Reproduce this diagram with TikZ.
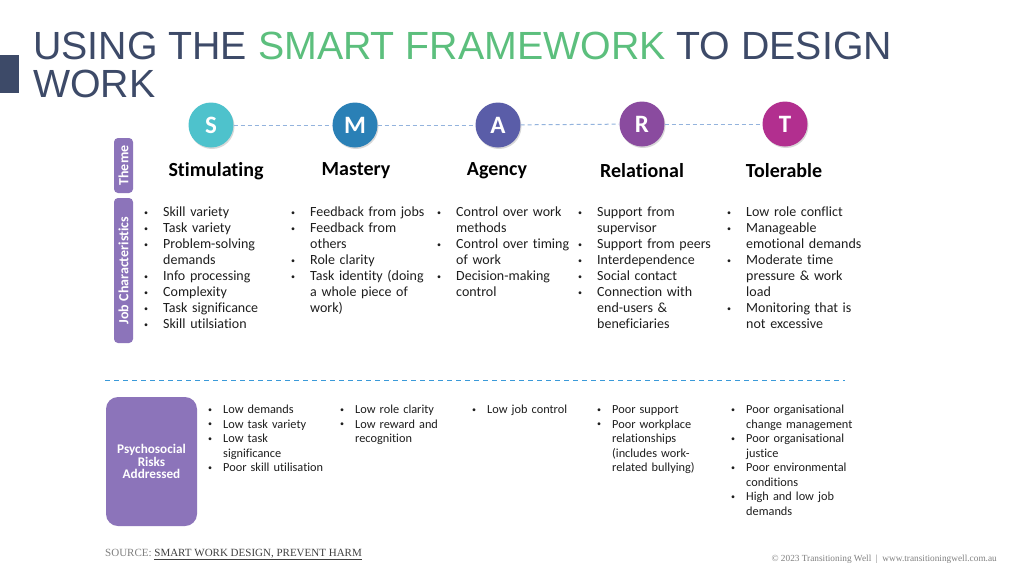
\documentclass[tikz,border=0pt]{standalone}
\usepackage{fontspec}
\setmainfont[Ligatures=NoCommon]{Carlito}
\newfontfamily\titlefont{Liberation Sans}
\newfontfamily\footfont{Liberation Serif}
\usetikzlibrary{positioning,shadows}
\definecolor{navy}{HTML}{3D4A68}
\definecolor{smartgreen}{HTML}{5CBF7D}
\definecolor{colS}{HTML}{4EC2CC}
\definecolor{colM}{HTML}{2A80B6}
\definecolor{colA}{HTML}{5A5DA8}
\definecolor{colR}{HTML}{8A4B9F}
\definecolor{colT}{HTML}{B22F8F}
\definecolor{barpurple}{HTML}{8C74BA}
\definecolor{linkblue}{HTML}{93B3DD}
\definecolor{seppblue}{HTML}{3A9AD9}
\definecolor{bodytext}{HTML}{1E1E1E}
\newlength\bulletgap
\newcommand\dotmark{\raisebox{1.6pt}{\fontsize{8}{8}\selectfont\textbullet}}
\newcommand\bl[1]{\par\noindent\strut\makebox[\bulletgap][l]{\dotmark}#1}
\newcommand\cl[1]{\par\noindent\strut\hspace*{\bulletgap}#1}
\tikzset{
  letter/.style={circle,minimum size=45pt,inner sep=0pt,text=white,
    font=\bfseries\fontsize{25}{25}\selectfont,
    drop shadow={shadow xshift=1pt,shadow yshift=-1.5pt,opacity=.3}},
  themename/.style={font=\bfseries\fontsize{20}{22}\selectfont,text=black},
  bar/.style={fill=barpurple,rounded corners=4pt,rotate=90,minimum height=19pt,
    inner sep=0pt,text=white,font=\bfseries\fontsize{14}{14}\selectfont},
  charlist/.style={anchor=north west,inner sep=0pt,text width=150pt,text=bodytext,
    font=\fontsize{14}{16}\selectfont\setlength\bulletgap{19pt}},
  risklist/.style={anchor=north west,inner sep=0pt,text width=130pt,text=bodytext,
    font=\fontsize{12.3}{14.5}\selectfont\setlength\bulletgap{15pt}},
  linkline/.style={linkblue,line width=1pt,dash pattern=on 4pt off 3pt},
}
\begin{document}
\begin{tikzpicture}[x=1pt,y=-1pt]
  \useasboundingbox[fill=white] (0,0) rectangle (1024,566);
  \fill[navy] (0,55) rectangle (19,93);
  \node[anchor=base west,inner sep=0pt,text=navy,font=\titlefont\fontsize{39.3}{38}\selectfont] (title) at (33,59)
    {USING THE \textcolor{smartgreen}{SMART FRAMEWORK} TO DESIGN};
  \node[anchor=base west,inner sep=0pt,text=navy,font=\titlefont\fontsize{39.3}{38}\selectfont] (titlework) at (33,97) {WORK};

  \node[letter,fill=colS] (s) at (211,125) {S};
  \node[letter,fill=colM] (m) at (355,125) {M};
  \node[letter,fill=colA] (a) at (498,125) {A};
  \node[letter,fill=colR] (r) at (642,124) {R};
  \node[letter,fill=colT] (t) at (785,124) {T};
  \draw[linkline] (s) -- (m);
  \draw[linkline] (m) -- (a);
  \draw[linkline] (a) -- (r);
  \draw[linkline] (r) -- (t);

  \node[themename] (stim) at (216,171) {Stimulating};
  \node[themename] (mast) at (356,171) {Mastery};
  \node[themename] (agen) at (497,171) {Agency};
  \node[themename] (rela) at (642,171) {Relational};
  \node[themename] (tole) at (784,171) {Tolerable};

  \node[bar,minimum width=55pt] (themebar) at (123.5,165.5) {Theme};
  \node[bar,minimum width=145pt] (jobbar) at (123.5,270.5) {Job Characteristics};

  \node[charlist] (stimchars) at (144,200.5) {\bl{Skill variety}\bl{Task variety}\bl{Problem-solving}\cl{demands}%
    \bl{Info processing}\bl{Complexity}\bl{Task significance}\bl{Skill utilsiation}};
  \node[charlist] (mastchars) at (291,200.5) {\bl{Feedback from jobs}\bl{Feedback from}\cl{others}\bl{Role clarity}%
    \bl{Task identity (doing}\cl{a whole piece of}\cl{work)}};
  \node[charlist] (agenchars) at (437,200.5) {\bl{Control over work}\cl{methods}\bl{Control over timing}\cl{of work}%
    \bl{Decision-making}\cl{control}};
  \node[charlist] (relachars) at (578,200.5) {\bl{Support from}\cl{supervisor}\bl{Support from peers}%
    \bl{Interdependence}\bl{Social contact}\bl{Connection with}\cl{end-users \&}\cl{beneficiaries}};
  \node[charlist] (tolechars) at (727,200.5) {\bl{Low role conflict}\bl{Manageable}\cl{emotional demands}%
    \bl{Moderate time}\cl{pressure \& work}\cl{load}\bl{Monitoring that is}\cl{not excessive}};

  \coordinate (sepleft) at (105,380);
  \coordinate (sepright) at (845,380);
  \draw[seppblue,line width=1pt,dash pattern=on 5pt off 4pt] (sepleft) -- (sepright);

  \node[fill=barpurple,rounded corners=12pt,minimum width=91pt,minimum height=129pt,inner sep=0pt,
    text=white,align=center,font=\bfseries\fontsize{13.2}{12.5}\selectfont] (risks) at (151.5,461.5)
    {Psychosocial\\Risks\\Addressed};

  \node[risklist] (stimrisks) at (208,399) {\bl{Low demands}\bl{Low task variety}\bl{Low task}\cl{significance}%
    \bl{Poor skill utilisation}};
  \node[risklist] (mastrisks) at (340,399) {\bl{Low role clarity}\bl{Low reward and}\cl{recognition}};
  \node[risklist] (agenrisks) at (472,399) {\bl{Low job control}};
  \node[risklist] (relarisks) at (597,399) {\bl{Poor support}\bl{Poor workplace}\cl{relationships}%
    \cl{(includes work-}\cl{related bullying)}};
  \node[risklist] (tolerisks) at (731,399) {\bl{Poor organisational}\cl{change management}%
    \bl{Poor organisational}\cl{justice}\bl{Poor environmental}\cl{conditions}\bl{High and low job}\cl{demands}};

  \node[anchor=base west,inner sep=0pt,text=gray,font=\footfont\fontsize{11}{12}\selectfont] (source) at (105,556)
    {SOURCE: \textcolor{darkgray}{\underline{SMART WORK DESIGN, PREVENT HARM}}};
  \node[anchor=base east,inner sep=0pt,text=gray,font=\footfont\fontsize{9.3}{10}\selectfont] (copyright) at (997,561)
    {\textcopyright\ 2023 Transitioning Well \ |\ \ www.transitioningwell.com.au};
\end{tikzpicture}
\end{document}
